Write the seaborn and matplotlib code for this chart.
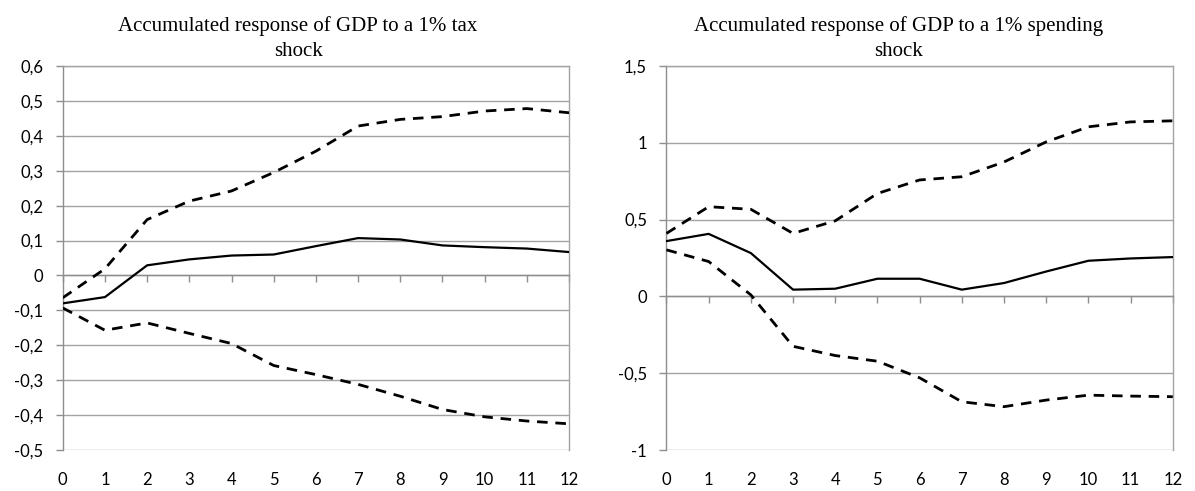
import matplotlib
matplotlib.use("Agg")
import matplotlib.pyplot as plt
from matplotlib.ticker import FixedLocator, FixedFormatter
import seaborn as sns
import pandas as pd

# Horizon (quarters after the shock)
periods = list(range(13))

# Accumulated response of GDP to a 1% tax shock
tax_response = [-0.080, -0.062, 0.029, 0.046, 0.057, 0.060, 0.084, 0.107, 0.103, 0.086, 0.081, 0.077, 0.067]
tax_upper = [-0.064, 0.019, 0.160, 0.213, 0.242, 0.295, 0.356, 0.428, 0.447, 0.455, 0.471, 0.478, 0.466]
tax_lower = [-0.093, -0.157, -0.136, -0.166, -0.195, -0.258, -0.284, -0.312, -0.346, -0.384, -0.405, -0.417, -0.425]

# Accumulated response of GDP to a 1% spending shock
spend_response = [0.360, 0.407, 0.282, 0.044, 0.050, 0.115, 0.115, 0.044, 0.087, 0.162, 0.232, 0.247, 0.256]
spend_upper = [0.410, 0.584, 0.567, 0.410, 0.492, 0.670, 0.758, 0.779, 0.875, 1.006, 1.104, 1.136, 1.143]
spend_lower = [0.303, 0.227, 0.010, -0.325, -0.385, -0.422, -0.530, -0.686, -0.718, -0.675, -0.643, -0.649, -0.653]

titles = ["Accumulated response of GDP to a 1% tax\nshock",
          "Accumulated response of GDP to a 1% spending\nshock"]

tax_yticks = [-0.5, -0.4, -0.3, -0.2, -0.1, 0.0, 0.1, 0.2, 0.3, 0.4, 0.5, 0.6]
tax_ylabels = ["-0,5", "-0,4", "-0,3", "-0,2", "-0,1", "0", "0,1", "0,2", "0,3", "0,4", "0,5", "0,6"]
spend_yticks = [-1.0, -0.5, 0.0, 0.5, 1.0, 1.5]
spend_ylabels = ["-1", "-0,5", "0", "0,5", "1", "1,5"]

sns.set_style("white")
plt.rcParams["font.family"] = ["Lato", "DejaVu Sans"]

GRID = "#A3A3A3"
AXIS = "#8E8E8E"

fig = plt.figure(figsize=(11.95, 4.91), dpi=100)
ax_l = fig.add_axes([0.0525, 0.0835, 0.4237, 0.7821])
ax_r = fig.add_axes([0.5577, 0.0835, 0.4237, 0.7821])

# chart titles are centred over each whole chart block, labels included
title_x = [0.2494, 0.7520]

panels = [
    (ax_l, tax_response, tax_upper, tax_lower, tax_yticks, tax_ylabels),
    (ax_r, spend_response, spend_upper, spend_lower, spend_yticks, spend_ylabels),
]

for i, (ax, mid, up, lo, yt, yl) in enumerate(panels):
    df = pd.DataFrame({"h": periods, "mid": mid, "up": up, "lo": lo})
    for col in ["up", "lo"]:
        sns.lineplot(data=df, x="h", y=col, ax=ax, color="black", lw=2.0,
                     linestyle=(0, (3.8, 2.8)), zorder=3)
    sns.lineplot(data=df, x="h", y="mid", ax=ax, color="black", lw=1.6, zorder=4)

    ax.set_xlim(periods[0], periods[-1])
    ax.set_ylim(yt[0], yt[-1])
    ax.set_xlabel("")
    ax.set_ylabel("")

    # horizontal gridlines at the value ticks
    ax.yaxis.set_major_locator(FixedLocator(yt))
    ax.yaxis.set_major_formatter(FixedFormatter(yl))
    ax.grid(axis="y", color=GRID, lw=1.0)
    ax.grid(axis="x", visible=False)
    ax.set_axisbelow(True)
    ax.tick_params(axis="y", which="major", direction="out", length=5, width=1.0,
                   color=AXIS, left=True, pad=9, labelsize=12, labelcolor="black")

    # category axis crosses at zero, labels stay at the bottom
    ax.spines["bottom"].set_position(("data", 0))
    ax.spines["bottom"].set_color(AXIS)
    ax.spines["bottom"].set_linewidth(1.0)
    ax.xaxis.set_major_locator(FixedLocator(periods))
    ax.tick_params(axis="x", which="major", direction="out", length=5, width=1.0,
                   color=AXIS, bottom=True, labelbottom=False)
    for side in ["left", "right", "top"]:
        ax.spines[side].set_visible(True)
        ax.spines[side].set_color(GRID)
        ax.spines[side].set_linewidth(1.0)
    ax.spines["left"].set_color(AXIS)

    sec = ax.secondary_xaxis(0)
    sec.set_xticks(periods)
    sec.set_xticklabels([str(p) for p in periods])
    sec.tick_params(length=0, pad=16, labelsize=12, labelcolor="black")
    sec.spines["bottom"].set_visible(False)

    fig.text(title_x[i], 1 - 61 / 491, titles[i], ha="center", va="bottom",
             fontfamily="Liberation Serif", fontsize=15, linespacing=1.42,
             color="black")

fig.savefig("out.png", dpi=100)
